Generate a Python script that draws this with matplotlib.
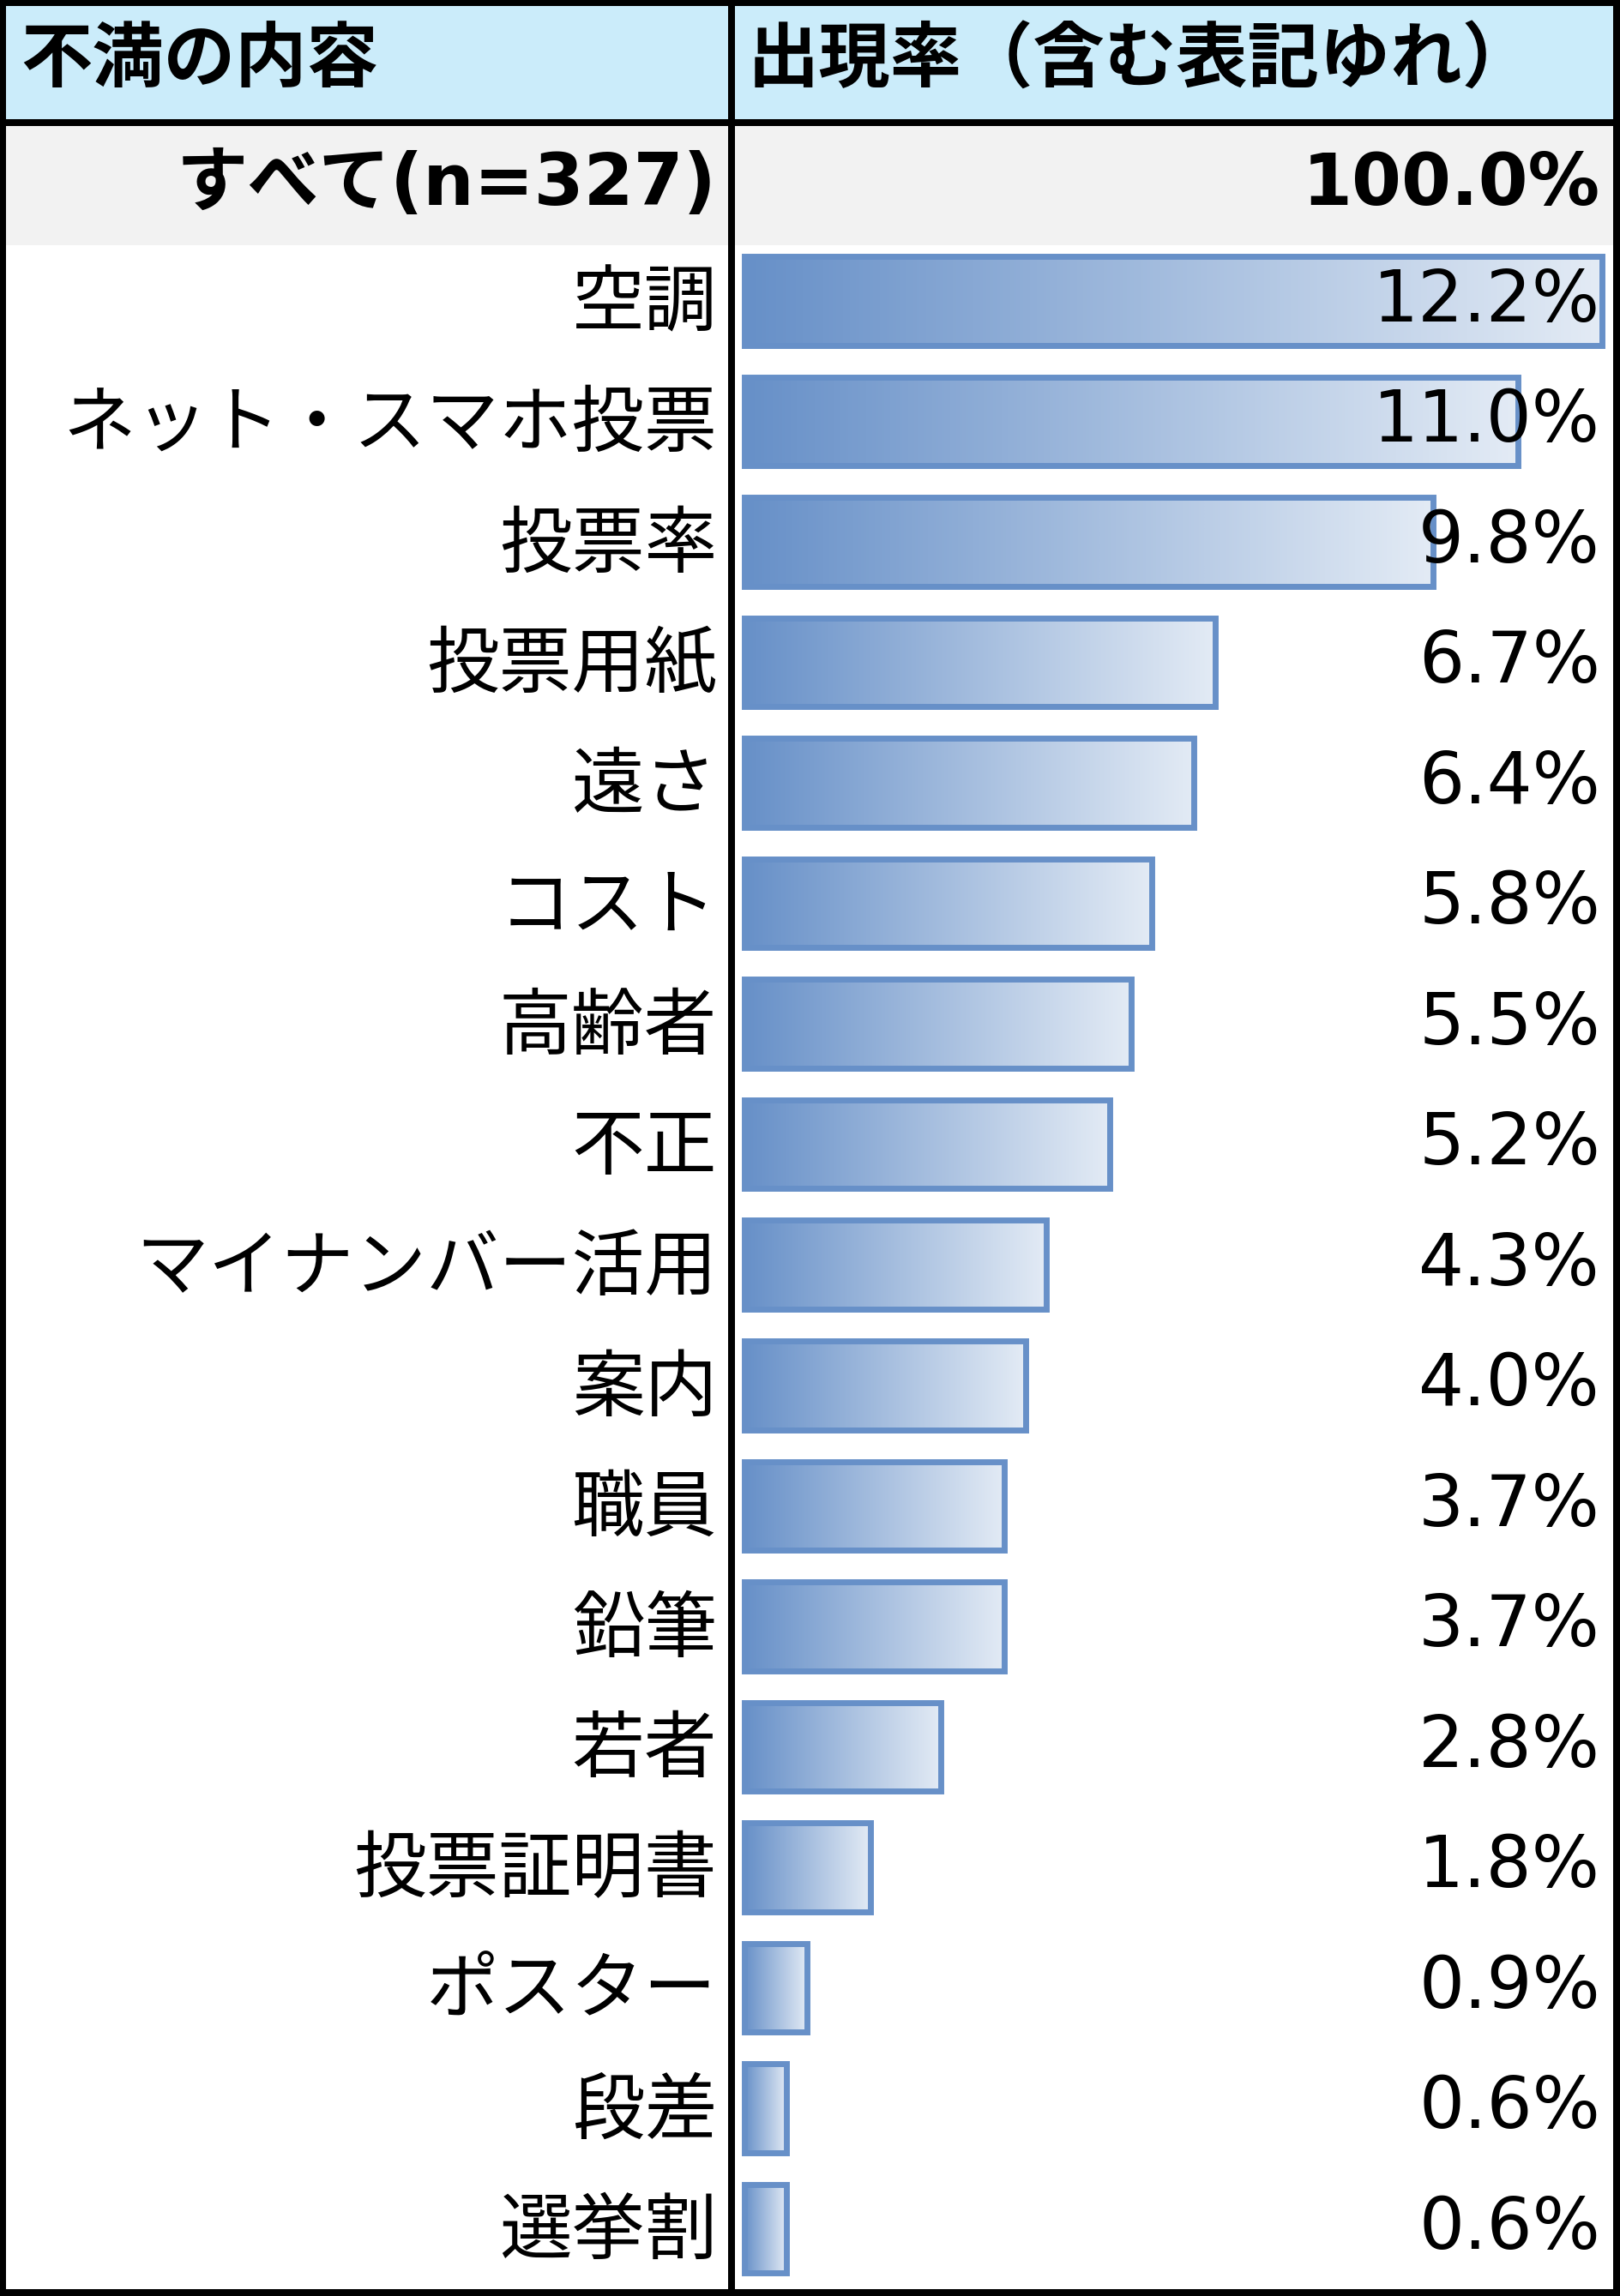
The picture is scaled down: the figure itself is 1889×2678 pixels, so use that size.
import numpy as np
import matplotlib
matplotlib.use("Agg")
import matplotlib.pyplot as plt
from matplotlib.colors import LinearSegmentedColormap
from matplotlib.patches import Rectangle
from matplotlib.transforms import blended_transform_factory, ScaledTranslation

plt.rcParams['font.family'] = ['Noto Sans CJK JP', 'DejaVu Sans']

# data
header_left = "不満の内容"
header_right = "出現率（含む表記ゆれ）"
total_label = "すべて"
total_n = 327
total_pct = 100.0
categories = ["空調", "ネット・スマホ投票", "投票率", "投票用紙", "遠さ", "コスト",
              "高齢者", "不正", "マイナンバー活用", "案内", "職員", "鉛筆", "若者",
              "投票証明書", "ポスター", "段差", "選挙割"]
rates = [12.2, 11.0, 9.8, 6.7, 6.4, 5.8, 5.5, 5.2, 4.3, 4.0, 3.7, 3.7, 2.8,
         1.8, 0.9, 0.6, 0.6]

W, H = 1889, 2678
FS = 60
bar_edge = '#6790C8'
grad = LinearSegmentedColormap.from_list('bar', ['#6790C8', '#E3EBF5'])

fig = plt.figure(figsize=(W / 100, H / 100), dpi=100)

# table background / grid, in pixel coords
bg = fig.add_axes([0, 0, 1, 1], zorder=0)
bg.set_xlim(0, W)
bg.set_ylim(H, 0)
bg.axis('off')

bg.add_patch(Rectangle((0, 0), W, 143, facecolor='#CBECFA', edgecolor='none'))
bg.add_patch(Rectangle((0, 143), W, 143, facecolor='#F2F2F2', edgecolor='none'))
black = dict(facecolor='black', edgecolor='none')
bg.add_patch(Rectangle((0, 0), W, 7, **black))
bg.add_patch(Rectangle((0, H - 8), W, 8, **black))
bg.add_patch(Rectangle((0, 0), 7, H, **black))
bg.add_patch(Rectangle((W - 8, 0), 8, H, **black))
bg.add_patch(Rectangle((0, 139), W, 8, **black))
bg.add_patch(Rectangle((849, 0), 8, H, **black))

bg.text(24, 70, header_left, fontsize=FS, fontweight='bold', ha='left', va='center')
bg.text(872, 70, header_right, fontsize=FS, fontweight='bold', ha='left', va='center')
bg.text(835, 216, f"{total_label}(n={total_n})", fontsize=FS, fontweight='bold',
        ha='right', va='center', family=['DejaVu Sans', 'Noto Sans CJK JP'])
bg.text(1866, 216, f"{total_pct:.1f}%", fontsize=FS, fontweight='bold',
        ha='right', va='center', family='DejaVu Sans')

# bar area
top_px, bot_px = 286, 2670
left_px, right_px = 857, 1881
ax = fig.add_axes([left_px / W, 1 - bot_px / H, (right_px - left_px) / W,
                   (bot_px - top_px) / H], zorder=1)
ax.patch.set_alpha(0)

n = len(categories)
pitch = 140.53
y0 = 351
px_per = 82.0
x0 = 867.5
h = 103.5 / pitch

gimg = np.linspace(0, 1, 256).reshape(1, -1)
for i, v in enumerate(rates):
    ax.imshow(gimg, cmap=grad, aspect='auto', interpolation='bilinear',
              extent=(0, v, i + h / 2, i - h / 2), zorder=1)
ax.barh(range(n), rates, height=h, color='none', edgecolor=bar_edge,
        linewidth=5.0, zorder=2)

ax.set_xlim(-(x0 - left_px) / px_per, (right_px - x0) / px_per)
ax.set_ylim((bot_px - y0) / pitch, -(y0 - top_px) / pitch)

ax.set_yticks(range(n))
ax.set_yticklabels(categories, fontsize=61)
ax.tick_params(axis='y', length=0, pad=15)
shift = ScaledTranslation(0, 5 / 100, fig.dpi_scale_trans)
for lab in ax.get_yticklabels():
    lab.set_transform(lab.get_transform() + shift)
ax.set_xticks([])
for s in ax.spines.values():
    s.set_visible(False)

tr = blended_transform_factory(ax.transAxes, ax.transData)
xr = (1866 - left_px) / (right_px - left_px)
for i, v in enumerate(rates):
    ax.text(xr, i, f"{v:.1f}%", transform=tr, fontsize=FS, ha='right',
            va='center', family='DejaVu Sans', zorder=3)

fig.savefig("out.png", dpi=100)
